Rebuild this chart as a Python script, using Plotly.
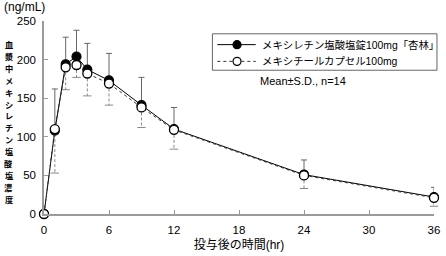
import plotly.graph_objects as go

# ---- data ----
hours = [0, 1, 2, 3, 4, 6, 9, 12, 24, 36]
tablet_mean = [0, 108, 194, 204, 187, 173, 141, 110, 51, 22]
tablet_sd = [0, 54, 35, 34, 34, 35, 36, 28, 19, 12.5]
capsule_mean = [0, 110, 190, 193, 182, 169, 138, 109, 50, 21]
capsule_sd = [0, 57, 29, 16, 29, 28, 26, 25, 17, 11]
tablet_name = "メキシレチン塩酸塩錠100mg「杏林」"
capsule_name = "メキシチールカプセル100mg"
x_ticks = [0, 6, 12, 18, 24, 30, 36]
y_ticks = [0, 50, 100, 150, 200, 250]
y_title = "血漿中メキシレチン塩酸塩濃度"

W, H = 446, 256
ML, MR, MT, MB = 44, 6, 21, 39
PW, PH = W - ML - MR, H - MT - MB

def px_x(px):
    return (px - ML) / PW

def px_y(py):
    return (H - MB - py) / PH

FONT = "Liberation Sans, Arial, Noto Sans CJK JP"

fig = go.Figure()

# capsule lower (dashed) error bars
ex, ey = [], []
cx, cy = [], []
for t, m, s in zip(hours, capsule_mean, capsule_sd):
    if s > 0:
        ex += [t, t, None]
        ey += [m, m - s, None]
        cx.append(t)
        cy.append(m - s)
fig.add_trace(go.Scatter(x=ex, y=ey, mode="lines", showlegend=False, hoverinfo="skip",
                         line=dict(color="#888888", width=1, dash="3px,2px"), cliponaxis=False))
fig.add_trace(go.Scatter(x=cx, y=cy, mode="markers", showlegend=False, hoverinfo="skip",
                         marker=dict(symbol="line-ew", size=6, line=dict(color="#888888", width=1)),
                         cliponaxis=False))

fig.add_trace(go.Scatter(
    x=hours, y=tablet_mean, name=tablet_name, mode="lines+markers", showlegend=False,
    line=dict(color="black", width=1),
    marker=dict(symbol="circle", size=9, color="black", line=dict(color="black", width=1.2)),
    error_y=dict(type="data", symmetric=False, array=tablet_sd, arrayminus=[0] * len(hours),
                 color="#666666", thickness=1, width=3),
    cliponaxis=False))

fig.add_trace(go.Scatter(
    x=hours, y=capsule_mean, name=capsule_name, mode="lines+markers", showlegend=False,
    line=dict(color="#333333", width=1, dash="dot"),
    marker=dict(symbol="circle", size=9, color="white", line=dict(color="black", width=1.3)),
    cliponaxis=False))

annotations = []
# vertical y title: one upright character per row
top_c, step = 44.3, 12.1
for i, ch in enumerate(y_title):
    annotations.append(dict(text="<b>" + ch + "</b>", x=px_x(8), y=px_y(top_c + i * step),
                            xref="paper", yref="paper", showarrow=False,
                            xanchor="center", yanchor="middle", borderpad=0,
                            font=dict(size=8.2, color="black", family="Noto Sans CJK JP")))
annotations.append(dict(text="(ng/mL)", x=px_x(1), y=px_y(7), xref="paper", yref="paper",
                        showarrow=False, xanchor="left", yanchor="middle",
                        font=dict(size=12, color="black")))
annotations.append(dict(text="Mean±S.D., n=14", x=px_x(261), y=px_y(82), xref="paper", yref="paper",
                        showarrow=False, xanchor="left", yanchor="middle",
                        font=dict(size=11, color="black")))

# manual legend
shapes = []
shapes.append(dict(type="rect", xref="paper", yref="paper",
                   x0=px_x(215), x1=px_x(443), y0=px_y(34), y1=px_y(71),
                   line=dict(color="#666666", width=1), fillcolor="white", layer="above"))
legend_rows = [
    (tablet_name, 45, "solid", "black", "black"),
    (capsule_name, 62, "dot", "#333333", "white"),
]
for name, ypix, dash, lcol, fill in legend_rows:
    shapes.append(dict(type="line", xref="paper", yref="paper",
                       x0=px_x(220), x1=px_x(259), y0=px_y(ypix), y1=px_y(ypix),
                       line=dict(color=lcol, width=1, dash=dash), layer="above"))
    shapes.append(dict(type="circle", xref="paper", yref="paper",
                       xsizemode="pixel", ysizemode="pixel",
                       xanchor=px_x(240), yanchor=px_y(ypix),
                       x0=-4, x1=4, y0=-4, y1=4,
                       line=dict(color="black", width=1.2), fillcolor=fill, layer="above"))
    annotations.append(dict(text=name, x=px_x(263), y=px_y(ypix), xref="paper", yref="paper",
                            showarrow=False, xanchor="left", yanchor="middle",
                            font=dict(size=10.4, color="black")))

fig.update_layout(
    width=W, height=H,
    margin=dict(l=ML, r=MR, t=MT, b=MB),
    paper_bgcolor="white", plot_bgcolor="white",
    font=dict(family=FONT, size=11.5, color="black"),
    showlegend=False,
    annotations=annotations,
    shapes=shapes,
    xaxis=dict(range=[0, 36], tickvals=x_ticks, ticktext=[str(v) for v in x_ticks],
               showgrid=False, zeroline=False, showline=True, linecolor="#9a9a9a", linewidth=1.5,
               ticks="inside", ticklen=4, tickcolor="#9a9a9a", tickwidth=1,
               ticklabelstandoff=4, ticklabeloverflow="allow",
               title=dict(text="投与後の時間(hr)", font=dict(size=12), standoff=6)),
    yaxis=dict(range=[0, 250], tickvals=y_ticks, ticktext=[str(v) for v in y_ticks],
               showgrid=False, zeroline=False, showline=True, linecolor="#9a9a9a", linewidth=1.5,
               ticks="inside", ticklen=4, tickcolor="#9a9a9a", tickwidth=1,
               ticklabelstandoff=4, ticklabeloverflow="allow"),
)

fig.write_html("out.html")
